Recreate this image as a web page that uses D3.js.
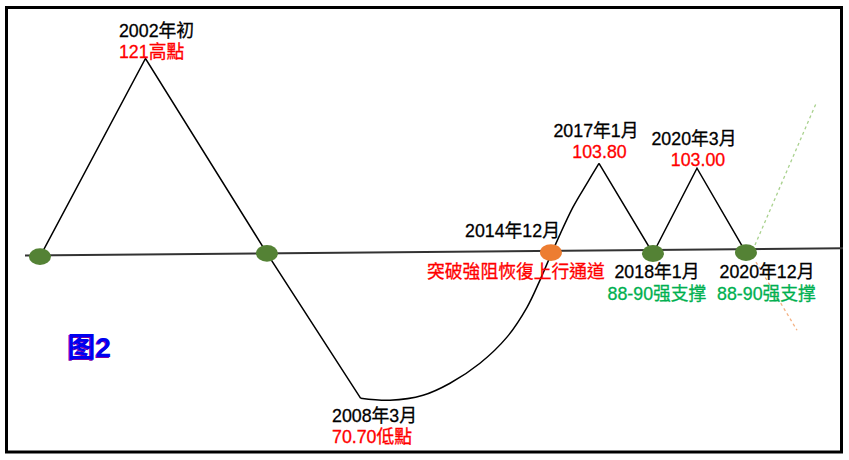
<!DOCTYPE html>
<html>
<head>
<meta charset="utf-8">
<script src="https://cdn.jsdelivr.net/npm/d3@7"></script>
<style>
  body { margin: 0; background: #fff; }
  text { font-family: "Liberation Sans", "Noto Sans CJK TC", sans-serif; }
</style>
</head>
<body>
<div id="chart"></div>
<script>
'use strict';

// schematic timeline: stage = horizontal position (0-100), level = price level

var baseStage = [0, 100];
var baseLevel = [88.75, 89.85];

// 2001 -> 2002 top -> down to 2008 bottom
var fallStage = [1.83, 14.73, 29.58, 41.04];
var fallLevel = [88.6, 121, 89.03, 70.7];

// 2008 bottom -> rounded recovery -> 2017 top
var riseStage = [41.04, 44.62, 48.66, 51.96, 55.62, 58.92, 61.37, 62.96, 64.55, 66.99, 68.70, 70.17];
var riseLevel = [70.7, 70.45, 71.08, 72.6, 75.13, 78.43, 82.2, 85.64, 89.57, 96.6, 100.5, 103.8];

// 2017 top -> 2018 support -> 2020 top -> 2020 support
var zigStage = [70.17, 76.77, 82.15, 88.14];
var zigLevel = [103.8, 89.0, 103.0, 89.16];

var dotStage = [1.83, 29.58, 64.30, 76.77, 88.14];
var dotLevel = [88.6, 89.03, 89.16, 89.0, 89.16];
var dotKind = ['support', 'support', 'breakout', 'support', 'support'];

var upStage = [89.24, 96.70];
var upLevel = [90.4, 113.6];
var downStage = [89.36, 94.38];
var downLevel = [87.92, 79.3];

var eventDates = ['2002年初', '2008年3月', '2014年12月', '2017年1月', '2018年1月', '2020年3月', '2020年12月'];
var eventNotes = ['121高點', '70.70低點', '突破強阻恢復上行通道', '103.80', '88-90强支撑', '103.00', '88-90强支撑'];
var eventStage = [14.73, 41.04, 64.30, 70.17, 76.77, 82.15, 88.14];
var eventLevel = [121, 70.7, 89.16, 103.8, 89.0, 103.0, 89.16];

var width = 849;
var height = 460;

var svg = d3.select('#chart')
  .append('svg')
  .attr('width', width)
  .attr('height', height);

var x = d3.scaleLinear().domain([0, 100]).range([25, 843]);
var y = d3.scaleLinear().domain([70.7, 89, 121]).range([398.3, 253.5, 58.5]);

function pts(sx, ly) {
  return sx.map(function(s, i) { return [x(s), y(ly[i])]; });
}

var straight = d3.line();
var smooth = d3.line().curve(d3.curveCatmullRom.alpha(0.5));

// frame
svg.append('rect')
  .attr('x', 6.5).attr('y', 7.5)
  .attr('width', 835).attr('height', 444.5)
  .attr('fill', 'none')
  .attr('stroke', '#000')
  .attr('stroke-width', 3);

// baseline
svg.append('path')
  .attr('d', straight(pts(baseStage, baseLevel)))
  .attr('stroke', '#333')
  .attr('stroke-width', 2)
  .attr('fill', 'none');

// dashed outlook lines
svg.append('path')
  .attr('d', straight(pts(upStage, upLevel)))
  .attr('stroke', '#a9d18e')
  .attr('stroke-width', 1.3)
  .attr('stroke-dasharray', '3,3')
  .attr('fill', 'none');
svg.append('path')
  .attr('d', straight(pts(downStage, downLevel)))
  .attr('stroke', '#f4b183')
  .attr('stroke-width', 1.3)
  .attr('stroke-dasharray', '3,3')
  .attr('fill', 'none');

// price path
[straight(pts(fallStage, fallLevel)),
 smooth(pts(riseStage, riseLevel)),
 straight(pts(zigStage, zigLevel))].forEach(function(d) {
  svg.append('path')
    .attr('d', d)
    .attr('stroke', '#000')
    .attr('stroke-width', 1.5)
    .attr('stroke-linejoin', 'miter')
    .attr('fill', 'none');
});

// dots
svg.selectAll('ellipse.dot')
  .data(dotStage)
  .enter()
  .append('ellipse')
  .attr('class', 'dot')
  .attr('cx', function(d) { return x(d); })
  .attr('cy', function(d, i) { return y(dotLevel[i]); })
  .attr('rx', 11)
  .attr('ry', 8.4)
  .attr('fill', function(d, i) { return dotKind[i] === 'breakout' ? '#ed7d31' : '#548235'; });

// labels: [dx, dy, anchor] of date line and note line relative to event point
var dateOff = [[-26.5, -21.5, 'start'], [-28.7, 23.7, 'start'], [-38.5, -15.5, 'middle'], [-3, -26, 'middle'],
               [4, 24.5, 'middle'], [-3, -23, 'middle'], [21, 25.5, 'middle']];
var noteOff = [[-26.5, -0.5, 'start'], [-28.7, 44.7, 'start'], [-35, 25.5, 'middle'], [0.5, -5, 'middle'],
               [4, 46.5, 'middle'], [1, -2, 'middle'], [20.5, 47.5, 'middle']];
var noteColor = ['#ff0000', '#ff0000', '#ff0000', '#ff0000', '#00b050', '#ff0000', '#00b050'];

eventDates.forEach(function(t, i) {
  var px = x(eventStage[i]);
  var py = y(eventLevel[i]);
  svg.append('text')
    .attr('x', px + dateOff[i][0])
    .attr('y', py + dateOff[i][1])
    .attr('text-anchor', dateOff[i][2])
    .attr('font-size', 17.8)
    .attr('fill', '#000')
    .attr('stroke', '#000')
    .attr('stroke-width', 0.3)
    .text(t);
  svg.append('text')
    .attr('x', px + noteOff[i][0])
    .attr('y', py + noteOff[i][1])
    .attr('text-anchor', noteOff[i][2])
    .attr('font-size', 17.8)
    .attr('fill', noteColor[i])
    .attr('stroke', noteColor[i])
    .attr('stroke-width', 0.3)
    .text(eventNotes[i]);
});

// figure tag with shadow
svg.append('text')
  .attr('x', 66.5).attr('y', 357.5)
  .attr('font-size', 28)
  .attr('font-weight', 'bold')
  .attr('fill', '#7a00a8')
  .text('图2');
svg.append('text')
  .attr('x', 67.5).attr('y', 356.5)
  .attr('font-size', 28)
  .attr('font-weight', 'bold')
  .attr('fill', '#0000f0')
  .text('图2');
</script>
</body>
</html>
